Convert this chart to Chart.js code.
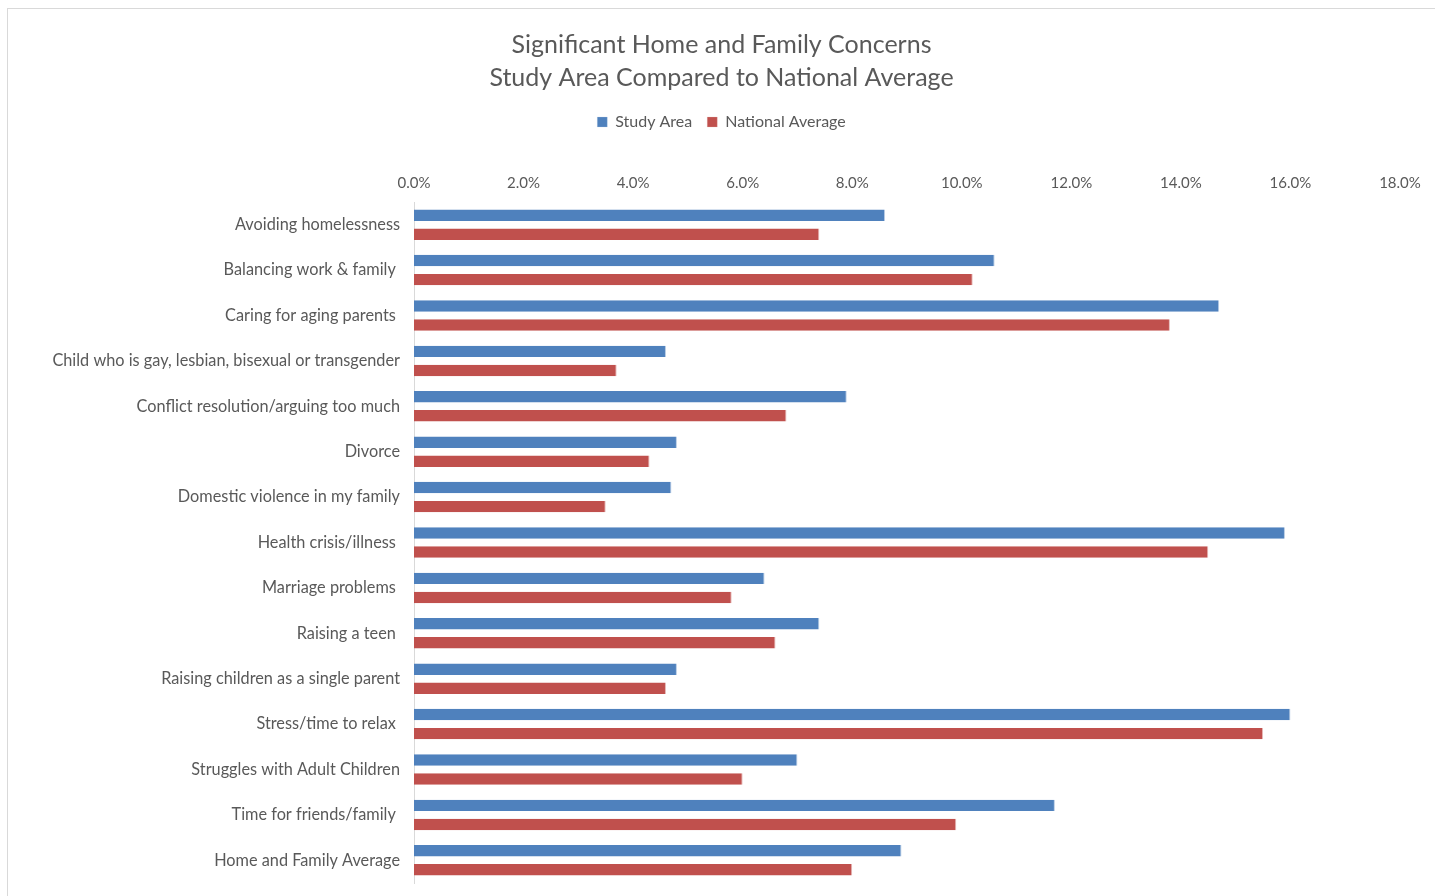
<!DOCTYPE html>
<html>
<head>
<meta charset="utf-8">
<title>Significant Home and Family Concerns</title>
<script src="https://cdn.jsdelivr.net/npm/chart.js@4/dist/chart.umd.min.js"></script>
<style>
  html, body { margin: 0; padding: 0; background: #fff; overflow: hidden; }
  #frame {
    position: absolute; left: 7px; top: 8px;
    width: 1440px; height: 900px;
    border: 1px solid #d9d9d9;
  }
  #wrap { position: absolute; left: 0; top: 0; width: 1435px; height: 896px; }
</style>
</head>
<body>
<div id="frame"></div>
<div id="wrap"><canvas id="concernsChart" width="1435" height="896"></canvas></div>
<script>
// Concern categories (some labels carry a trailing space, as in the source sheet)
const categories = [
  "Avoiding homelessness",
  "Balancing work & family ",
  "Caring for aging parents ",
  "Child who is gay, lesbian, bisexual or transgender",
  "Conflict resolution/arguing too much",
  "Divorce",
  "Domestic violence in my family",
  "Health crisis/illness ",
  "Marriage problems ",
  "Raising a teen ",
  "Raising children as a single parent",
  "Stress/time to relax ",
  "Struggles with Adult Children",
  "Time for friends/family ",
  "Home and Family Average"
];

// Percent of respondents
const studyArea = [8.6, 10.6, 14.7, 4.6, 7.9, 4.8, 4.7, 15.9, 6.4, 7.4, 4.8, 16.0, 7.0, 11.7, 8.9];
const nationalAverage = [7.4, 10.2, 13.8, 3.7, 6.8, 4.3, 3.5, 14.5, 5.8, 6.6, 4.6, 15.5, 6.0, 9.9, 8.0];

// Axis ticks
const xMin = 0, xMax = 18, xStep = 2;

const textColor = "#595959";
const fontFamily = "Lato, 'Open Sans', sans-serif";

new Chart(document.getElementById("concernsChart"), {
  type: "bar",
  data: {
    labels: categories,
    datasets: [
      {
        label: "Study Area",
        data: studyArea,
        backgroundColor: "#4f81bd",
        borderColor: "#b9cde5",
        borderWidth: { right: 1, top: 0, bottom: 0, left: 0 },
        categoryPercentage: 0.84,
        barPercentage: 0.6
      },
      {
        label: "National Average",
        data: nationalAverage,
        backgroundColor: "#c0504d",
        borderColor: "#e6b9b8",
        borderWidth: { right: 1, top: 0, bottom: 0, left: 0 },
        categoryPercentage: 0.84,
        barPercentage: 0.6
      }
    ]
  },
  options: {
    indexAxis: "y",
    responsive: false,
    animation: false,
    layout: { padding: { left: 8, right: 0, top: 0, bottom: 13 } },
    plugins: {
      title: {
        display: true,
        text: ["Significant Home and Family Concerns", "Study Area Compared to National Average"],
        color: textColor,
        font: { family: fontFamily, size: 25, weight: "normal", lineHeight: 1.32 },
        padding: { top: 28, bottom: 5 }
      },
      legend: {
        position: "top",
        labels: {
          color: textColor,
          font: { family: fontFamily, size: 16 },
          boxWidth: 10,
          boxHeight: 10,
          padding: 15
        }
      },
      tooltip: { enabled: false }
    },
    scales: {
      x: {
        position: "top",
        min: xMin,
        max: xMax,
        ticks: {
          stepSize: xStep,
          color: textColor,
          font: { family: fontFamily, size: 15 },
          padding: 10,
          callback: v => v.toFixed(1) + "%"
        },
        grid: { display: false, drawTicks: false },
        border: { display: false },
        afterFit: s => { s.height = 62; s.paddingRight = 35; }
      },
      y: {
        ticks: {
          color: textColor,
          font: { family: fontFamily, size: 16.3 },
          padding: 14,
          autoSkip: false
        },
        grid: { display: false, drawTicks: false },
        border: { display: true, color: "#d9d9d9", width: 1 },
        afterFit: s => { s.width = 406; s.paddingTop = 0; s.paddingBottom = 0; }
      }
    }
  }
});
</script>
</body>
</html>
